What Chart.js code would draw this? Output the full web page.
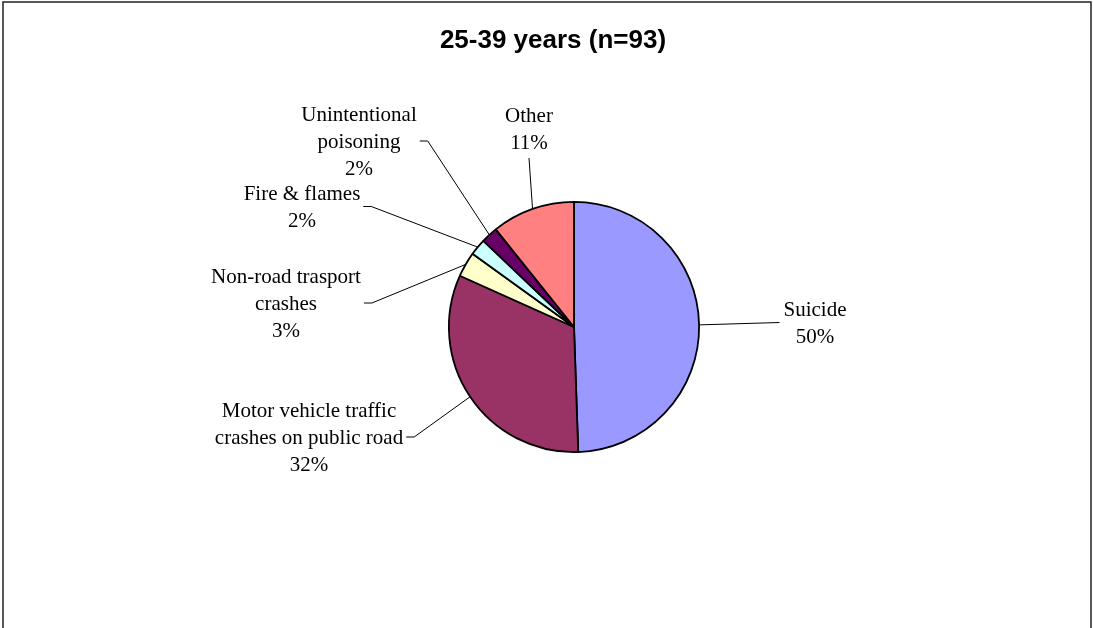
<!DOCTYPE html>
<html>
<head>
<meta charset="utf-8">
<script src="https://cdn.jsdelivr.net/npm/chart.js@4/dist/chart.umd.min.js"></script>
<style>
  html, body { margin: 0; padding: 0; background: #fff; }
  #wrap { position: relative; width: 1093px; height: 628px; }
</style>
</head>
<body>
<div id="wrap"><canvas id="chart-pie"></canvas></div>
<script>
const chartTitle = '25-39 years (n=93)'
const categories = [
  ['Suicide'],
  ['Motor vehicle traffic', 'crashes on public road'],
  ['Non-road trasport', 'crashes'],
  ['Fire & flames'],
  ['Unintentional', 'poisoning'],
  ['Other']
]
const deaths = [46, 30, 3, 2, 2, 10]
const percentLabels = ['50%', '32%', '3%', '2%', '2%', '11%']
const sliceColors = ['#9999FF', '#993366', '#FFFFCC', '#CCFFFF', '#660066', '#FF8080']

// where each label sits, relative to the pie centre (dx = text centre, dy = first baseline)
const labelPlacement = [
  { dx: 241, dy: -11, side: 'right' },
  { dx: -265, dy: 90, side: 'left' },
  { dx: -288, dy: -44, side: 'left' },
  { dx: -272, dy: -127, side: 'left' },
  { dx: -215, dy: -206, side: 'left' },
  { dx: -45, dy: -205, side: 'top' }
]

const lineH = 27

const frameAndLabels = {
  id: 'frameAndLabels',
  beforeDraw(chart) {
    const ctx = chart.ctx
    ctx.save()
    ctx.fillStyle = '#fff'
    ctx.fillRect(0, 0, chart.width, chart.height)
    ctx.strokeStyle = '#222'
    ctx.lineWidth = 1.5
    ctx.strokeRect(3, 2, 1088, 700)
    ctx.restore()
  },
  afterDraw(chart) {
    const ctx = chart.ctx
    ctx.save()

    ctx.fillStyle = '#000'
    ctx.font = 'bold 26px "Liberation Sans", Arial, sans-serif'
    ctx.textAlign = 'center'
    ctx.textBaseline = 'alphabetic'
    ctx.fillText(chartTitle, 553, 48)

    ctx.font = '21px "Liberation Serif", "Times New Roman", serif'
    ctx.strokeStyle = '#000'
    ctx.lineWidth = 1

    const meta = chart.getDatasetMeta(0)
    meta.data.forEach((arc, i) => {
      const { x, y, startAngle, endAngle, outerRadius } =
        arc.getProps(['x', 'y', 'startAngle', 'endAngle', 'outerRadius'], true)
      const mid = (startAngle + endAngle) / 2
      const px = x + Math.cos(mid) * outerRadius
      const py = y + Math.sin(mid) * outerRadius

      const lines = [...categories[i], percentLabels[i]]
      const p = labelPlacement[i]
      const cx = x + p.dx
      const b = y + p.dy
      let w = 0
      lines.forEach((t, k) => {
        ctx.fillText(t, cx, b + k * lineH)
        w = Math.max(w, ctx.measureText(t).width)
      })
      const left = cx - w / 2
      const right = cx + w / 2
      const midY = b + (lines.length - 1) * lineH / 2 - 7

      ctx.beginPath()
      if (p.side === 'left') {
        ctx.moveTo(right + 3, midY)
        ctx.lineTo(right + 11, midY)
      } else if (p.side === 'right') {
        ctx.moveTo(left - 4, midY)
      } else {
        ctx.moveTo(cx, b + (lines.length - 1) * lineH + 9)
      }
      ctx.lineTo(px, py)
      ctx.stroke()
    })
    ctx.restore()
  }
}

const ctx = document.getElementById('chart-pie').getContext('2d')

new Chart(ctx, {
  type: 'pie',
  data: {
    labels: categories.map(c => c.join(' ')),
    datasets: [{
      data: deaths,
      backgroundColor: sliceColors,
      borderColor: '#000',
      borderWidth: 1.8
    }]
  },
  options: {
    responsive: true,
    maintainAspectRatio: false,
    animation: false,
    layout: {
      padding: { top: 201, bottom: 175, left: 374, right: 319 }
    },
    plugins: {
      legend: { display: false },
      tooltip: { enabled: false },
      title: { display: false }
    }
  },
  plugins: [frameAndLabels]
})
</script>
</body>
</html>
